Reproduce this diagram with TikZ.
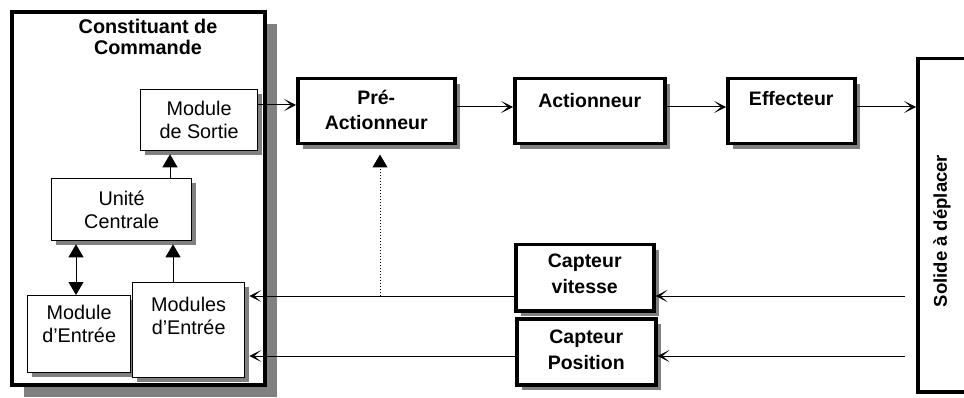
\documentclass[tikz,border=0pt]{standalone}
\usepackage{fontspec}
\setmainfont{Liberation Sans}
\usetikzlibrary{arrows.meta,shadows}
\definecolor{shade}{RGB}{128,128,128}

\tikzset{
  txt/.style={font=\fontsize{19.8}{23}\selectfont, align=center, inner sep=0pt},
  btxt/.style={font=\fontsize{19.5}{25.5}\selectfont\bfseries, align=center, inner sep=0pt},
  module/.style={draw, line width=1.3pt, fill=white, inner sep=0pt, anchor=north west,
    drop shadow={shadow xshift=4pt, shadow yshift=-4pt, fill=shade, opacity=1}},
  block/.style={draw, line width=3.5pt, fill=white, inner sep=0pt, anchor=north west,
    drop shadow={shadow xshift=5pt, shadow yshift=-5pt, fill=shade, opacity=1}},
  flow/.style={line width=1pt, -{Stealth[length=12pt,width=12pt,inset=7pt]}},
  link/.style={line width=1pt, -{Triangle[length=13pt,width=15pt]}},
  dlink/.style={line width=1pt, {Triangle[length=13pt,width=15pt]}-{Triangle[length=13pt,width=15pt]}},
}

\begin{document}
\begin{tikzpicture}[x=1pt,y=-1pt]
\useasboundingbox (0,0) rectangle (964,398);
\clip (0,0) rectangle (964,398);

% control unit frame
\node[draw, line width=4pt, fill=white, inner sep=0pt, anchor=north west,
  minimum width=253pt, minimum height=373pt,
  drop shadow={shadow xshift=12pt, shadow yshift=-12pt, fill=shade, opacity=1}]
  (cc) at (10,10) {};
\node[btxt, font=\fontsize{19.8}{21.5}\selectfont\bfseries] (cc-t) at (148,37) {Constituant de\\Commande};

% inner modules
\node[module, minimum width=117pt, minimum height=61pt] (sortie) at (140,89) {};
\node[txt] (sortie-t) at (sortie.center) {Module\\de Sortie};
\node[module, minimum width=140pt, minimum height=62pt] (unite) at (51,178) {};
\node[txt] (unite-t) at (unite.center) {Unité\\Centrale};
\node[module, minimum width=103pt, minimum height=77pt] (entree1) at (27,295) {};
\node[txt] (entree1-t) at ([yshift=10pt]entree1.center) {Module\\d’Entrée};
\node[module, minimum width=112pt, minimum height=95pt] (entree2) at (132,282) {};
\node[txt] (entree2-t) at ([yshift=14pt]entree2.center) {Modules\\d’Entrée};

% action chain
\node[block, minimum width=157pt, minimum height=65pt] (pre) at (296,77) {};
\node[btxt] (pre-t) at ([yshift=1.5pt]pre.center) {Pré-\\Actionneur};
\node[block, minimum width=150pt, minimum height=65pt] (act) at (513,77) {};
\node[btxt] (act-t) at ([yshift=11pt]act.center) {Actionneur};
\node[block, minimum width=127pt, minimum height=65pt] (eff) at (726,77) {};
\node[btxt] (eff-t) at ([yshift=12.5pt]eff.center) {Effecteur};

% sensors
\node[block, minimum width=138pt, minimum height=66pt] (cv) at (514,243) {};
\node[btxt] (cv-t) at ([yshift=4pt]cv.center) {Capteur\\vitesse};
\node[block, minimum width=139pt, minimum height=66pt] (cp) at (515,317) {};
\node[btxt] (cp-t) at ([yshift=2pt]cp.center) {Capteur\\Position};

% moving part
\node[draw, line width=3.5pt, fill=white, inner sep=0pt, anchor=north west,
  minimum width=80pt, minimum height=333pt] (solide) at (916,57) {};
\node[btxt, font=\fontsize{18.5}{22}\selectfont\bfseries, rotate=90] (solide-t) at (942,231) {Solide à déplacer};

% connectors inside the control unit
\coordinate (u1) at (170,0);
\coordinate (u2) at (173,0);
\coordinate (d1) at (76,0);
\draw[link, shorten >=3pt] (unite.north -| u1) -- (sortie.south -| u1);
\draw[link, shorten >=3pt] (entree2.north -| u2) -- (unite.south -| u2);
\draw[dlink, shorten <=3pt] (unite.south -| d1) -- (entree1.north -| d1);

% forward chain
\coordinate (fs) at (0,105);
\coordinate (fl) at (0,107);
\draw[flow] (sortie.east |- fs) -- (pre.west |- fs);
\draw[flow] (pre.east |- fl) -- (act.west |- fl);
\draw[flow] (act.east |- fl) -- (eff.west |- fl);
\draw[flow] (eff.east |- fl) -- (solide.west |- fl);

% feedback
\coordinate (fv) at (905,296);
\coordinate (fp) at (905,356);
\draw[flow] (fv) -- (cv.east |- fv);
\draw[flow] (fp) -- (cp.east |- fp);
\draw[flow, shorten >=4pt] (cv.west |- fv) -- (entree2.east |- fv);
\draw[flow, shorten >=4pt] (cp.west |- fp) -- (entree2.east |- fp);

% speed information to the pre-actuator
\coordinate (dj) at (380,296);
\draw[link, dotted, shorten >=9pt] (dj) -- (dj |- pre.south);
\end{tikzpicture}
\end{document}
